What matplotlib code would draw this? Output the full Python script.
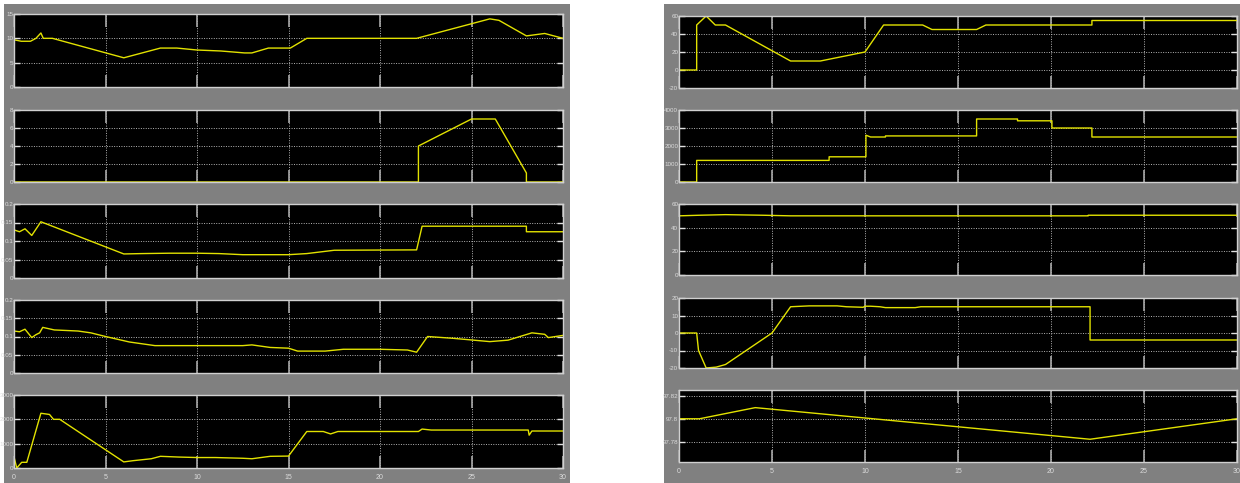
import matplotlib
matplotlib.use("Agg")
import matplotlib.pyplot as plt
from matplotlib.patches import Rectangle

plt.rcParams['font.family'] = ['Liberation Sans Narrow', 'Liberation Sans', 'DejaVu Sans']

# ---- left scope: five signals over 0..30 s ----
t_l1 = [0, 0, 0.4, 0.9, 1.2, 1.47, 1.6, 2.1, 6.0, 8.0, 8.9, 10.0, 11.3, 12.6, 13.0, 13.9,
        15.1, 16.0, 22.0, 23.0, 26.0, 26.5, 28.0, 29.0, 30]
v_l1 = [0, 9.7, 9.4, 9.4, 10.0, 11.1, 10.0, 10.0, 6.0, 8.0, 8.0, 7.6, 7.4, 7.0, 7.0, 8.0,
        8.0, 10.0, 10.0, 11.0, 14.0, 13.7, 10.5, 11.0, 10.0]

t_l2 = [0, 22.1, 22.1, 25.0, 26.3, 28.0, 28.0, 30]
v_l2 = [0, 0, 4, 7, 7, 1, 0, 0]

t_l3 = [0, 0, 0.3, 0.6, 0.97, 1.47, 6.0, 7.0, 8.5, 10.0, 11.2, 12.5, 15.0, 16.0, 17.5,
        22.0, 22.3, 28.0, 28.0, 30]
v_l3 = [0, 0.13, 0.125, 0.133, 0.115, 0.152, 0.065, 0.066, 0.067, 0.067, 0.066, 0.063,
        0.063, 0.066, 0.075, 0.076, 0.14, 0.14, 0.125, 0.125]

t_l4 = [0, 0, 0.3, 0.6, 0.97, 1.2, 1.4, 1.57, 2.2, 3.5, 4.2, 5.0, 6.3, 7.7, 12.5, 13.0,
        14.0, 15.0, 15.5, 17.0, 18.0, 20.0, 21.5, 22.0, 22.6, 24.0, 26.0, 27.0, 28.3,
        29.0, 29.2, 30]
v_l4 = [0, 0.115, 0.113, 0.12, 0.097, 0.105, 0.11, 0.125, 0.118, 0.115, 0.11, 0.1, 0.085,
        0.075, 0.075, 0.077, 0.07, 0.068, 0.06, 0.06, 0.065, 0.065, 0.063, 0.057, 0.1,
        0.095, 0.086, 0.09, 0.11, 0.106, 0.097, 0.103]

t_l5 = [0, 0.15, 0.42, 0.7, 1.47, 1.94, 2.16, 2.5, 6.0, 6.5, 7.5, 8.0, 9.0, 10.0, 11.0,
        12.5, 13.0, 14.0, 15.0, 16.0, 16.9, 17.3, 17.7, 22.1, 22.3, 22.8, 28.1, 28.15,
        28.3, 30]
v_l5 = [460, 0, 234, 234, 2250, 2200, 2000, 2000, 250, 300, 380, 480, 450, 430, 430, 400,
        380, 480, 490, 1500, 1500, 1400, 1500, 1500, 1600, 1560, 1560, 1350, 1520, 1520]

# ---- right scope ----
t_r1 = [0, 0.95, 0.95, 1.46, 1.95, 2.5, 6.0, 7.6, 10.0, 11.0, 13.1, 13.6, 16.0, 16.5,
        22.2, 22.2, 30]
v_r1 = [0, 0, 50, 60, 50, 50, 10, 10, 20, 50, 50, 45, 45, 50, 50, 55, 55]

t_r2 = [0, 0.95, 0.95, 8.07, 8.07, 10.05, 10.05, 10.3, 11.1, 11.1, 16.0, 16.0, 18.2,
        18.2, 20.05, 20.05, 22.2, 22.2, 30]
v_r2 = [0, 0, 1200, 1200, 1400, 1400, 2600, 2500, 2500, 2560, 2560, 3500, 3500, 3400,
        3400, 3000, 3000, 2500, 2500]

t_r3 = [0, 0, 1.1, 2.5, 4.5, 6.0, 22.0, 22.0, 30]
v_r3 = [0, 50, 50.5, 51, 50.5, 50, 50, 50.5, 50.5]

t_r4 = [0, 0.95, 1.05, 1.46, 2.0, 2.5, 5.0, 6.0, 7.0, 8.5, 9.0, 9.9, 10.0, 10.3, 10.8,
        11.1, 12.7, 13.0, 16.0, 22.1, 22.1, 30]
v_r4 = [0, 0, -10, -20, -19.5, -18, 0, 15, 15.5, 15.5, 15, 14.7, 15.3, 15.3, 15, 14.5,
        14.5, 15, 15, 15, -4, -4]

t_r5 = [0, 1.1, 4.1, 22.1, 30]
v_r5 = [97.80, 97.80, 97.8098, 97.782, 97.80]

x_ticks = [0, 5, 10, 15, 20, 25, 30]

left_sigs = [
    (t_l1, v_l1, (0, 15), [0, 5, 10, 15], ["0", "5", "10", "15"]),
    (t_l2, v_l2, (0, 8), [0, 2, 4, 6, 8], ["0", "2", "4", "6", "8"]),
    (t_l3, v_l3, (0, 0.2), [0, 0.05, 0.1, 0.15, 0.2], ["0", "0.05", "0.1", "0.15", "0.2"]),
    (t_l4, v_l4, (0, 0.2), [0, 0.05, 0.1, 0.15, 0.2], ["0", "0.05", "0.1", "0.15", "0.2"]),
    (t_l5, v_l5, (0, 3000), [0, 1000, 2000, 3000], ["0", "1000", "2000", "3000"]),
]
right_sigs = [
    (t_r1, v_r1, (-20, 60), [-20, 0, 20, 40, 60], ["-20", "0", "20", "40", "60"]),
    (t_r2, v_r2, (0, 4000), [0, 1000, 2000, 3000, 4000], ["0", "1000", "2000", "3000", "4000"]),
    (t_r3, v_r3, (0, 60), [0, 20, 40, 60], ["0", "20", "40", "60"]),
    (t_r4, v_r4, (-20, 20), [-20, -10, 0, 10, 20], ["-20", "-10", "0", "10", "20"]),
    (t_r5, v_r5, (97.762, 97.8253), [97.78, 97.8, 97.82], ["97.78", "97.8", "97.82"]),
]

W, H = 1240, 483
fig = plt.figure(figsize=(W / 100, H / 100), dpi=100)
fig.patch.set_facecolor("white")

# grey scope windows
for x0, x1 in [(4, 570), (664, 1240)]:
    fig.add_artist(Rectangle((x0 / W, 0), (x1 - x0) / W, 1 - 4 / H,
                             transform=fig.transFigure, facecolor="#808080",
                             edgecolor="none", zorder=0))

left_rows = [(14, 87), (110, 182), (204, 278), (300, 373), (395, 468)]
right_rows = [(16, 88), (110, 182), (204, 275), (298, 368), (390, 462)]


def scope(rect, t, v, ylim, yt, ylab, last):
    x0, x1, top, bot = rect
    ax = fig.add_axes([x0 / W, 1 - bot / H, (x1 - x0) / W, (bot - top) / H])
    ax.set_facecolor("black")
    ax.plot(t, v, color="#e2e200", lw=1.0)
    ax.set_xlim(0, 30)
    ax.set_ylim(*ylim)
    ax.set_xticks(x_ticks)
    ax.set_yticks(yt)
    ax.set_yticklabels(ylab)
    if last:
        ax.set_xticklabels([str(x) for x in x_ticks])
    else:
        ax.set_xticklabels([])
    ax.grid(True, color="#b4b4b4", linestyle=(0, (1, 1.5)), lw=0.7)
    ax.tick_params(axis="x", direction="in", length=9, width=1.2, color="#a8a8a8",
                   top=True, labelsize=5, labelcolor="#dcdcdc", pad=4)
    ax.tick_params(axis="y", direction="in", length=4, width=1, color="#e0e0e0",
                   right=True, labelsize=4.5, labelcolor="#dcdcdc", pad=0.5)
    for s in ax.spines.values():
        s.set_color("#d0d0d0")
        s.set_linewidth(1.0)
    return ax


for i, (t, v, ylim, yt, ylab) in enumerate(left_sigs):
    top, bot = left_rows[i]
    scope((14, 563, top, bot), t, v, ylim, yt, ylab, i == 4)

for i, (t, v, ylim, yt, ylab) in enumerate(right_sigs):
    top, bot = right_rows[i]
    scope((679, 1237, top, bot), t, v, ylim, yt, ylab, i == 4)

fig.savefig("out.png", dpi=100, facecolor=fig.get_facecolor())
